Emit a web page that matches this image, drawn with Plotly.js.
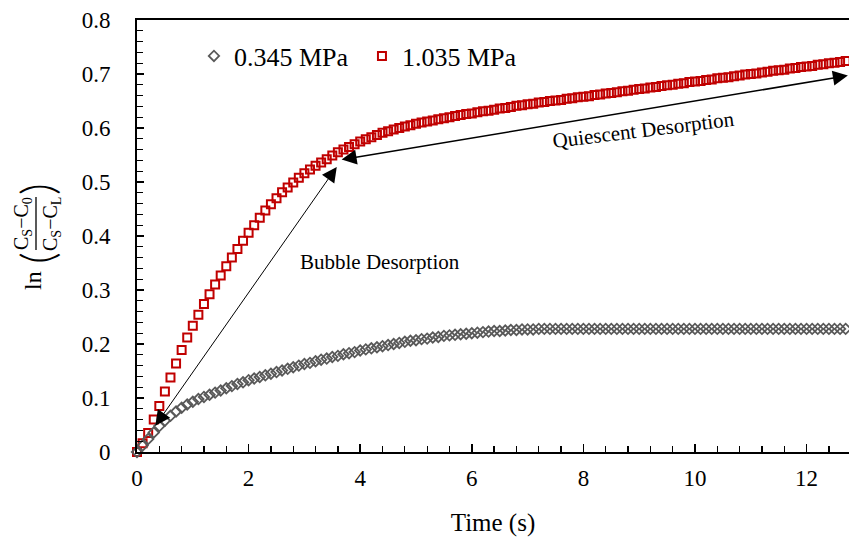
<!DOCTYPE html>
<html>
<head>
<meta charset="utf-8">
<script src="https://cdn.plot.ly/plotly-3.0.1.min.js"></script>
<style>
  html, body { margin: 0; padding: 0; background: #ffffff; }
  #chart { width: 849px; height: 537px; }
</style>
</head>
<body>
<div id="chart"></div>
<script>
// Sampling times (s)
const time = [
  0.0, 0.1, 0.2, 0.3, 0.4, 0.5, 0.6, 0.7, 0.8, 0.9,
  1.0, 1.1, 1.2, 1.3, 1.4, 1.5, 1.6, 1.7, 1.8, 1.9,
  2.0, 2.1, 2.2, 2.3, 2.4, 2.5, 2.6, 2.7, 2.8, 2.9,
  3.0, 3.1, 3.2, 3.3, 3.4, 3.5, 3.6, 3.7, 3.8, 3.9,
  4.0, 4.1, 4.2, 4.3, 4.4, 4.5, 4.6, 4.7, 4.8, 4.9,
  5.0, 5.1, 5.2, 5.3, 5.4, 5.5, 5.6, 5.7, 5.8, 5.9,
  6.0, 6.1, 6.2, 6.3, 6.4, 6.5, 6.6, 6.7, 6.8, 6.9,
  7.0, 7.1, 7.2, 7.3, 7.4, 7.5, 7.6, 7.7, 7.8, 7.9,
  8.0, 8.1, 8.2, 8.3, 8.4, 8.5, 8.6, 8.7, 8.8, 8.9,
  9.0, 9.1, 9.2, 9.3, 9.4, 9.5, 9.6, 9.7, 9.8, 9.9,
  10.0, 10.1, 10.2, 10.3, 10.4, 10.5, 10.6, 10.7, 10.8, 10.9,
  11.0, 11.1, 11.2, 11.3, 11.4, 11.5, 11.6, 11.7, 11.8, 11.9,
  12.0, 12.1, 12.2, 12.3, 12.4, 12.5, 12.6, 12.7
];

// ln((Cs-C0)/(Cs-CL)) at 0.345 MPa
const low345 = [
  0.000, 0.012, 0.024, 0.036, 0.048, 0.058, 0.067, 0.075, 0.082, 0.088,
  0.093, 0.098, 0.102, 0.106, 0.110, 0.114, 0.118, 0.122, 0.126, 0.129,
  0.133, 0.136, 0.139, 0.142, 0.145, 0.148, 0.151, 0.154, 0.157, 0.160,
  0.163, 0.165, 0.168, 0.171, 0.173, 0.176, 0.178, 0.181, 0.183, 0.185,
  0.188, 0.190, 0.192, 0.194, 0.196, 0.198, 0.200, 0.202, 0.204, 0.206,
  0.207, 0.209, 0.210, 0.212, 0.213, 0.215, 0.216, 0.217, 0.218, 0.219,
  0.220, 0.221, 0.222, 0.223, 0.224, 0.224, 0.225, 0.226, 0.226, 0.227,
  0.227, 0.227, 0.228, 0.228, 0.228, 0.228, 0.228, 0.228, 0.228, 0.228,
  0.228, 0.228, 0.228, 0.228, 0.228, 0.228, 0.228, 0.228, 0.228, 0.228,
  0.228, 0.228, 0.228, 0.228, 0.228, 0.228, 0.228, 0.228, 0.228, 0.228,
  0.228, 0.228, 0.228, 0.228, 0.228, 0.228, 0.228, 0.228, 0.228, 0.228,
  0.228, 0.228, 0.228, 0.228, 0.228, 0.228, 0.228, 0.228, 0.228, 0.228,
  0.228, 0.228, 0.228, 0.228, 0.228, 0.228, 0.228, 0.228
];

// ln((Cs-C0)/(Cs-CL)) at 1.035 MPa
const high1035 = [
  0.000, 0.016, 0.035, 0.060, 0.085, 0.112, 0.138, 0.164, 0.189, 0.212,
  0.234, 0.254, 0.274, 0.292, 0.310, 0.327, 0.344, 0.360, 0.376, 0.391,
  0.406, 0.420, 0.434, 0.447, 0.459, 0.470, 0.481, 0.490, 0.499, 0.508,
  0.516, 0.523, 0.530, 0.536, 0.542, 0.549, 0.555, 0.560, 0.565, 0.570,
  0.575, 0.579, 0.583, 0.587, 0.591, 0.594, 0.597, 0.600, 0.603, 0.605,
  0.608, 0.610, 0.612, 0.614, 0.616, 0.618, 0.620, 0.622, 0.624, 0.626,
  0.627, 0.629, 0.631, 0.632, 0.634, 0.636, 0.637, 0.639, 0.641, 0.642,
  0.644, 0.645, 0.647, 0.648, 0.650, 0.651, 0.652, 0.654, 0.655, 0.657,
  0.658, 0.659, 0.661, 0.662, 0.664, 0.665, 0.666, 0.668, 0.669, 0.671,
  0.672, 0.673, 0.675, 0.676, 0.678, 0.679, 0.680, 0.682, 0.683, 0.685,
  0.686, 0.687, 0.689, 0.690, 0.692, 0.693, 0.694, 0.696, 0.697, 0.699,
  0.700, 0.701, 0.703, 0.704, 0.706, 0.707, 0.708, 0.710, 0.711, 0.713,
  0.714, 0.715, 0.717, 0.718, 0.720, 0.721, 0.722, 0.724
];

const seriesNames = ['0.345 MPa', '1.035 MPa'];
const xTicks = [0, 2, 4, 6, 8, 10, 12];
const yTicks = [0, 0.1, 0.2, 0.3, 0.4, 0.5, 0.6, 0.7, 0.8];

// Double-headed arrows marking the two desorption stages: [x0, y0, x1, y1]
const bubbleArrow = [0.31, 0.046, 3.58, 0.528];
const quiescentArrow = [3.64, 0.541, 12.74, 0.697];

const SERIF = 'Liberation Serif, Times New Roman, serif';

const traces = [
  {
    x: time, y: high1035, name: seriesNames[1],
    type: 'scatter', mode: 'markers', cliponaxis: false,
    marker: { symbol: 'square-open', size: 8, color: '#C00000', line: { width: 2, color: '#C00000' } }
  },
  {
    x: time, y: low345, name: seriesNames[0],
    type: 'scatter', mode: 'markers', cliponaxis: false,
    marker: { symbol: 'diamond-open', size: 8, color: '#595959', line: { width: 1.8, color: '#595959' } }
  }
];

// y-axis label built as ln( fraction ), rotated
const leftPx = 137, plotW = 712, plotH = 432, bottomPx = 452;
const py = p => (bottomPx - p) / plotH;

function titlePiece(text, cx, cy, size, family, weight) {
  return {
    xref: 'paper', yref: 'paper', x: 0, y: py(cy), xshift: cx - leftPx,
    xanchor: 'center', yanchor: 'middle', textangle: -90,
    text: text, showarrow: false,
    font: { family: family || SERIF, size: size, color: '#000', weight: weight || 'normal' }
  };
}

function arrow(a, width, size) {
  return {
    xref: 'x', yref: 'y', axref: 'x', ayref: 'y',
    x: a[2], y: a[3], ax: a[0], ay: a[1], text: '',
    showarrow: true, arrowside: 'end+start',
    arrowhead: 2, startarrowhead: 2,
    arrowsize: size, startarrowsize: size,
    arrowwidth: width, arrowcolor: '#000'
  };
}

const annotations = [
  titlePiece('ln', 33, 281, 24),
  titlePiece('C<sub>S</sub>\u2212C<sub>0</sub>', 22, 224, 20),
  titlePiece('C<sub>S</sub>\u2212C<sub>L</sub>', 51, 224, 20),
  titlePiece('(', 36, 258, 46, 'Lato, Liberation Serif, serif', 300),
  titlePiece(')', 36, 189, 46, 'Lato, Liberation Serif, serif', 300),
  arrow(bubbleArrow, 1, 3.0),
  arrow(quiescentArrow, 1.5, 2.0),
  {
    xref: 'x', yref: 'y', x: 4.36, y: 0.351, text: 'Bubble Desorption',
    showarrow: false, font: { family: SERIF, size: 21, color: '#000' }
  },
  {
    xref: 'x', yref: 'y', x: 9.07, y: 0.596, text: 'Quiescent Desorption',
    textangle: -7, showarrow: false, font: { family: SERIF, size: 21, color: '#000' }
  }
];

const shapes = [
  {
    type: 'line', xref: 'paper', yref: 'paper',
    x0: (36 - leftPx) / plotW, x1: (36 - leftPx) / plotW, y0: py(250), y1: py(197),
    line: { color: '#000', width: 1.3 }
  }
];

const layout = {
  width: 849, height: 537,
  margin: { l: 137, r: 0, t: 20, b: 85 },
  paper_bgcolor: '#ffffff', plot_bgcolor: '#ffffff',
  showlegend: true,
  legend: {
    orientation: 'h', x: 0.080, y: 0.971, xanchor: 'left', yanchor: 'top',
    traceorder: 'reversed', bgcolor: 'rgba(0,0,0,0)',
    entrywidth: 123, entrywidthmode: 'pixels',
    font: { family: SERIF, size: 26, color: '#000' }
  },
  font: { family: SERIF, color: '#000' },
  xaxis: {
    range: [0, 12.76], tickvals: xTicks, ticktext: xTicks.map(String),
    showgrid: false, zeroline: false,
    showline: true, linewidth: 2, linecolor: '#000', mirror: true,
    ticks: 'inside', ticklen: 8, tickwidth: 1.5, tickcolor: '#000',
    minor: { dtick: 0.4, tick0: 0, ticks: 'inside', ticklen: 6, tickwidth: 1.3, tickcolor: '#000', showgrid: false },
    tickfont: { family: SERIF, size: 23, color: '#000' },
    ticklabelstandoff: 4,
    title: { text: 'Time (s)', font: { family: SERIF, size: 25, color: '#000' }, standoff: 28 }
  },
  yaxis: {
    range: [0, 0.8], tickvals: yTicks, ticktext: yTicks.map(String),
    showgrid: false, zeroline: false,
    showline: true, linewidth: 2, linecolor: '#000', mirror: false,
    ticks: 'inside', ticklen: 7, tickwidth: 1.5, tickcolor: '#000',
    minor: { dtick: 0.02, tick0: 0, ticks: 'inside', ticklen: 6, tickwidth: 1.3, tickcolor: '#000', showgrid: false },
    tickfont: { family: SERIF, size: 23, color: '#000' },
    ticklabelstandoff: 20
  },
  annotations: annotations,
  shapes: shapes
};

Plotly.newPlot('chart', traces, layout, { displayModeBar: false, staticPlot: true });
</script>
</body>
</html>
